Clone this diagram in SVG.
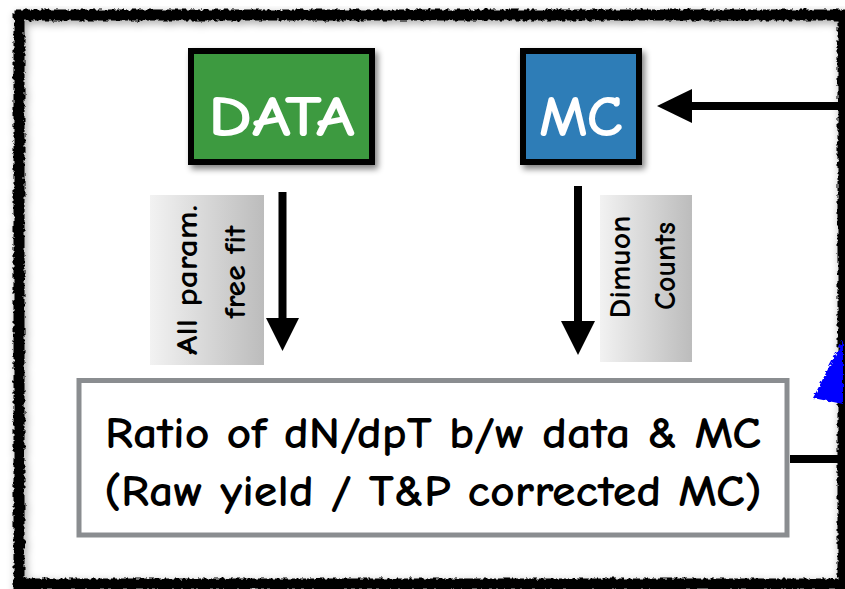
<svg xmlns="http://www.w3.org/2000/svg" width="845" height="589" viewBox="0 0 845 589">
<style>
.lbl{font-family:"Comic Neue","DejaVu Sans","Liberation Sans",sans-serif;font-weight:bold;fill:#000}
.big{font-family:"Comic Neue","DejaVu Sans","Liberation Sans",sans-serif;font-weight:bold;fill:#fff;font-size:58px}
.conn{stroke:#000;stroke-width:8;fill:none}
.head{fill:#000}
</style>
<defs>
<filter id="rough" x="-5%" y="-5%" width="110%" height="110%">
<feTurbulence type="fractalNoise" baseFrequency="0.25" numOctaves="2" seed="3"/>
<feDisplacementMap in="SourceGraphic" scale="5"/>
</filter>
<filter id="shadow" x="-10%" y="-10%" width="125%" height="125%">
<feGaussianBlur in="SourceAlpha" stdDeviation="3"/>
<feOffset dx="3" dy="4"/>
<feComponentTransfer><feFuncA type="linear" slope="0.5"/></feComponentTransfer>
<feMerge><feMergeNode/><feMergeNode in="SourceGraphic"/></feMerge>
</filter>
<filter id="inner" x="-2%" y="-2%" width="104%" height="104%">
<feGaussianBlur in="SourceAlpha" stdDeviation="4"/>
<feOffset dx="2" dy="3"/>
<feComponentTransfer><feFuncA type="linear" slope="0.35"/></feComponentTransfer>
<feMerge><feMergeNode/><feMergeNode in="SourceGraphic"/></feMerge>
</filter>
<linearGradient id="lg" x1="0" y1="0" x2="1" y2="0">
<stop offset="0" stop-color="#f2f2f2"/>
<stop offset="1" stop-color="#bcbcbc"/>
</linearGradient>
</defs>
<rect width="845" height="589" fill="#fff"/>
<g id="frame" filter="url(#inner)">
<rect x="19" y="15" width="824" height="569" fill="none" stroke="#000" stroke-width="11" filter="url(#rough)"/>
</g>
<g id="connectors">
<line class="conn" x1="845" y1="106" x2="690" y2="106"/>
<polygon class="head" points="657,106 692,89 692,123"/>
<line class="conn" x1="282.5" y1="192" x2="282.5" y2="322"/>
<polygon class="head" points="266,318 299,318 282.5,351"/>
<line class="conn" x1="578" y1="186" x2="578" y2="325"/>
<polygon class="head" points="561,321 595,321 578,355"/>
<line class="conn" x1="790" y1="459" x2="845" y2="459" stroke-width="7"/>
</g>
<g id="data" filter="url(#shadow)">
<rect x="191" y="51" width="181" height="111" fill="#3c9a40" stroke="#000" stroke-width="6"/>
<text class="big" x="281.5" y="136" text-anchor="middle" textLength="147" lengthAdjust="spacingAndGlyphs">DATA</text>
</g>
<g id="mc" filter="url(#shadow)">
<rect x="523" y="51" width="116" height="111" fill="#2f7db7" stroke="#000" stroke-width="6"/>
<text class="big" x="581" y="136" text-anchor="middle" textLength="84" lengthAdjust="spacingAndGlyphs">MC</text>
</g>
<g id="label-fit">
<rect x="150" y="195" width="114" height="170" fill="url(#lg)"/>
<text class="lbl" font-size="31" transform="translate(197,280) rotate(-90)" text-anchor="middle" textLength="150" lengthAdjust="spacingAndGlyphs">All param.</text>
<text class="lbl" font-size="31" transform="translate(245,272) rotate(-90)" text-anchor="middle" textLength="93" lengthAdjust="spacingAndGlyphs">free fit</text>
</g>
<g id="label-counts">
<rect x="600" y="195" width="92" height="167" fill="url(#lg)"/>
<text class="lbl" font-size="31" transform="translate(630,267) rotate(-90)" text-anchor="middle" textLength="103" lengthAdjust="spacingAndGlyphs">Dimuon</text>
<text class="lbl" font-size="31" transform="translate(675,266) rotate(-90)" text-anchor="middle" textLength="88" lengthAdjust="spacingAndGlyphs">Counts</text>
</g>
<g id="ratio">
<rect x="79" y="380.5" width="708" height="154.5" fill="#fff" stroke="#8a8d90" stroke-width="5"/>
<text class="lbl" font-size="45" x="433" y="448" text-anchor="middle" textLength="656" lengthAdjust="spacingAndGlyphs">Ratio of dN/dpT b/w data &amp; MC</text>
<text class="lbl" font-size="45" x="433" y="506" text-anchor="middle" textLength="658" lengthAdjust="spacingAndGlyphs">(Raw yield / T&amp;P corrected MC)</text>
</g>
<g id="blue-mark">
<polygon points="843,340 813,398 843,404" fill="#0000ff" filter="url(#rough)"/>
</g>
</svg>
